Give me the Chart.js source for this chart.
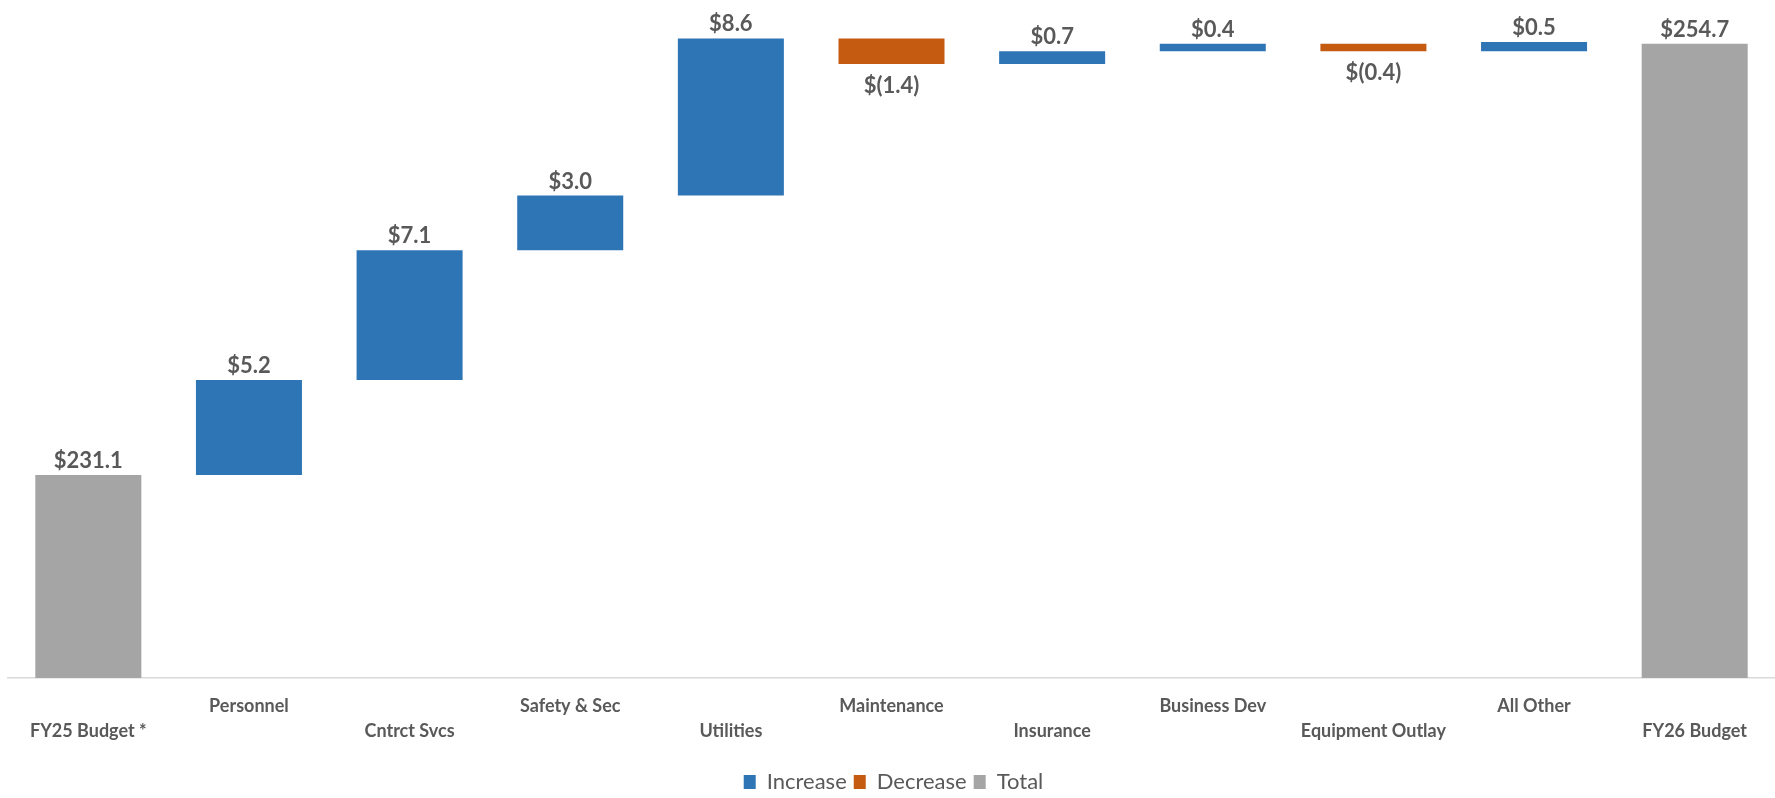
<!DOCTYPE html>
<html>
<head>
<meta charset="utf-8">
<script src="https://cdn.jsdelivr.net/npm/chart.js@4.4.1/dist/chart.umd.min.js"></script>
<style>
    html, body { margin: 0; padding: 0; background: #fff; overflow: hidden; }
    #wrap { width: 1775px; height: 798px; }
</style>
</head>
<body>
<div id="wrap"><canvas id="waterfallChart"></canvas></div>
<script>
// Chart data
const categories = ['FY25 Budget *', 'Personnel', 'Cntrct Svcs', 'Safety & Sec', 'Utilities',
    'Maintenance', 'Insurance', 'Business Dev', 'Equipment Outlay', 'All Other', 'FY26 Budget'];
const startTotal = 231.1;
const changes = [5.2, 7.1, 3.0, 8.6, -1.4, 0.7, 0.4, -0.4, 0.5];
const endTotal = 254.7;

const textColor = '#595959';

// Build floating bar ranges from the running total
const increaseData = [null];
const decreaseData = [null];
const totalData = [[220, startTotal]];
const labelValues = [startTotal];
let running = startTotal;
changes.forEach(change => {
    const next = running + change;
    if (change >= 0) {
        increaseData.push([running, next]);
        decreaseData.push(null);
    } else {
        increaseData.push(null);
        decreaseData.push([next, running]);
    }
    totalData.push(null);
    labelValues.push(change);
    running = next;
});
increaseData.push(null);
decreaseData.push(null);
totalData.push([220, endTotal]);
labelValues.push(endTotal);

// Stagger the category labels on two rows
const tickLabels = categories.map((c, i) => i % 2 === 0 ? ['', c] : [c, '']);

function formatMoney(v) {
    return v < 0 ? '$(' + Math.abs(v).toFixed(1) + ')' : '$' + v.toFixed(1);
}

const valueLabels = {
    id: 'valueLabels',
    afterDatasetsDraw(chart) {
        const ctx = chart.ctx;
        ctx.save();
        ctx.font = 'bold 22px Lato';
        ctx.fillStyle = textColor;
        ctx.textAlign = 'center';
        chart.data.datasets.forEach((ds, di) => {
            const meta = chart.getDatasetMeta(di);
            meta.data.forEach((bar, i) => {
                if (!ds.data[i]) return;
                const v = labelValues[i];
                const top = Math.min(bar.y, bar.base);
                const bottom = Math.max(bar.y, bar.base);
                if (v < 0) {
                    ctx.textBaseline = 'top';
                    ctx.fillText(formatMoney(v), bar.x, bottom + 11);
                } else {
                    ctx.textBaseline = 'alphabetic';
                    ctx.fillText(formatMoney(v), bar.x, top - 7);
                }
            });
        });
        ctx.restore();
    }
};

const ctx = document.getElementById('waterfallChart').getContext('2d');
new Chart(ctx, {
    type: 'bar',
    data: {
        labels: tickLabels,
        datasets: [
            { label: 'Increase', data: increaseData, backgroundColor: '#2E75B6' },
            { label: 'Decrease', data: decreaseData, backgroundColor: '#C55A11' },
            { label: 'Total', data: totalData, backgroundColor: '#A5A5A5' }
        ]
    },
    options: {
        responsive: true,
        maintainAspectRatio: false,
        animation: false,
        layout: {
            padding: { left: 8, right: -4, top: 0, bottom: -5 }
        },
        datasets: {
            bar: { barPercentage: 0.66, categoryPercentage: 1 }
        },
        scales: {
            x: {
                stacked: true,
                grid: { display: false },
                border: { display: true, color: '#D9D9D9', width: 1.5 },
                ticks: {
                    padding: 8,
                    maxRotation: 0,
                    autoSkip: false,
                    color: textColor,
                    font: { family: 'Lato', size: 18, weight: 'bold', lineHeight: 1.39 }
                },
                // extra room between the labels and the legend
                afterFit: scale => { scale.height += 12; }
            },
            y: {
                display: false,
                min: 220,
                max: 257.1
            }
        },
        plugins: {
            legend: {
                position: 'bottom',
                labels: {
                    boxWidth: 12,
                    boxHeight: 14,
                    padding: 7,
                    color: textColor,
                    font: { family: 'Lato', size: 22 }
                }
            },
            tooltip: { enabled: false }
        }
    },
    plugins: [valueLabels]
});
</script>
</body>
</html>
